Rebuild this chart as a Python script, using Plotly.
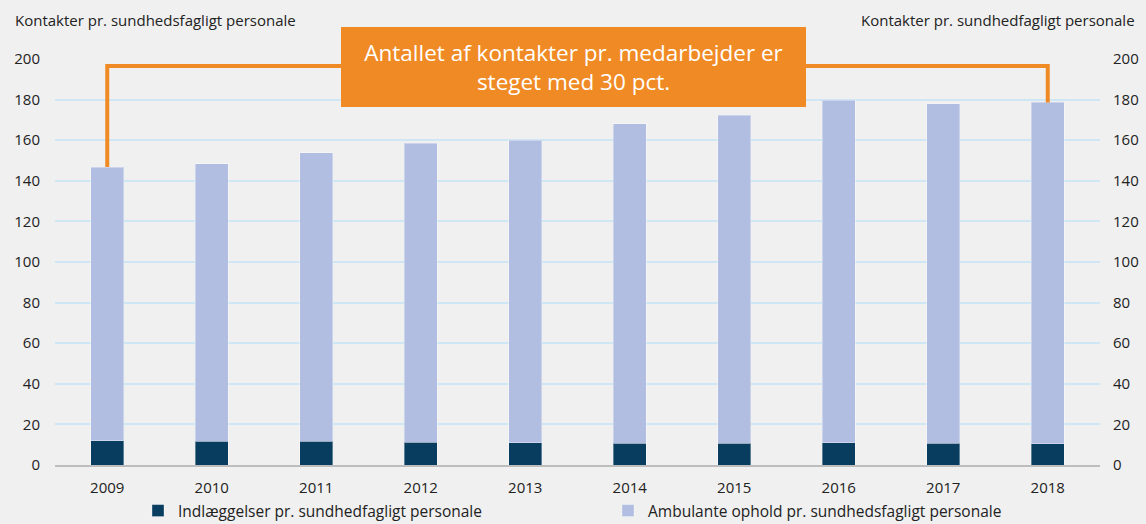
import plotly.graph_objects as go

years = ["2009", "2010", "2011", "2012", "2013", "2014", "2015", "2016", "2017", "2018"]
indlaeggelser = [11.9, 11.6, 11.6, 11.3, 10.9, 10.7, 10.7, 10.9, 10.7, 10.4]
total = [146.8, 148.3, 153.7, 158.6, 160.0, 168.0, 172.4, 179.8, 178.0, 178.6]
ambulante = [round(t - i, 1) for t, i in zip(total, indlaeggelser)]
bracket_level = 196.5

FONT = "Open Sans"
ORANGE = "#F08A24"

fig = go.Figure()
fig.add_trace(go.Bar(
    x=years, y=indlaeggelser, name="Indlæggelser pr. sundhedfagligt personale",
    marker=dict(color="#083D60", line=dict(color="rgba(255,255,255,0.35)", width=1)),
))
fig.add_trace(go.Bar(
    x=years, y=ambulante, name="Ambulante ophold pr. sundhedsfagligt personale",
    marker=dict(color="#B1BEE1", line=dict(color="rgba(255,255,255,0.35)", width=1)),
))
fig.add_trace(go.Scatter(
    x=[years[0], years[0], years[-1], years[-1]],
    y=[total[0], bracket_level, bracket_level, total[-1]],
    mode="lines", line=dict(color=ORANGE, width=4),
    showlegend=False, hoverinfo="skip", yaxis="y2",
))

fig.update_layout(
    width=1146, height=524,
    barmode="stack", bargap=0.68,
    paper_bgcolor="#F0F0F0", plot_bgcolor="#F0F0F0",
    margin=dict(l=55, r=46, t=59, b=59, autoexpand=False),
    font=dict(family=FONT, size=14, color="#222222"),
    xaxis=dict(type="category", showgrid=False, showline=True, linecolor="#BDBDBD",
               linewidth=2, ticks="", tickfont=dict(size=15), ticklabelstandoff=8),
    yaxis=dict(range=[0, 200], dtick=20, showgrid=True, gridcolor="#CFE6F5",
               gridwidth=1.5, zeroline=False, ticks="", ticklabelstandoff=14,
               tickfont=dict(size=15)),
    yaxis2=dict(range=[0, 200], dtick=20, overlaying="y", side="right",
                showgrid=False, zeroline=False, ticks="", ticklabelstandoff=12,
                tickfont=dict(size=15)),
    legend=dict(orientation="h", x=(138 - 55) / 1045, xanchor="left",
                y=(465 - 511) / 406, yanchor="middle",
                entrywidth=425, entrywidthmode="pixels", font=dict(size=15.5),
                traceorder="normal", itemwidth=30),
    showlegend=True,
)

fig.add_annotation(xref="paper", yref="paper", x=-42/1045, y=1.096, xanchor="left",
                   yanchor="middle", showarrow=False,
                   text="Kontakter pr. sundhedsfagligt personale", font=dict(size=15))
fig.add_annotation(xref="paper", yref="paper", x=1 + 37/1045, y=1.096, xanchor="right",
                   yanchor="middle", showarrow=False,
                   text="Kontakter pr. sundhedfagligt personale", font=dict(size=15))
fig.add_annotation(xref="paper", yref="paper", x=0.496, y=0.980, xanchor="center",
                   yanchor="middle", showarrow=False,
                   text="Antallet af kontakter pr. medarbejder er<br>steget med 30 pct.",
                   font=dict(size=22.5, color="white"), bgcolor=ORANGE,
                   width=465, height=80, borderpad=0, borderwidth=0)

fig.write_html("out.html", post_script="document.body.style.margin='0';",
               config={"displayModeBar": False})
